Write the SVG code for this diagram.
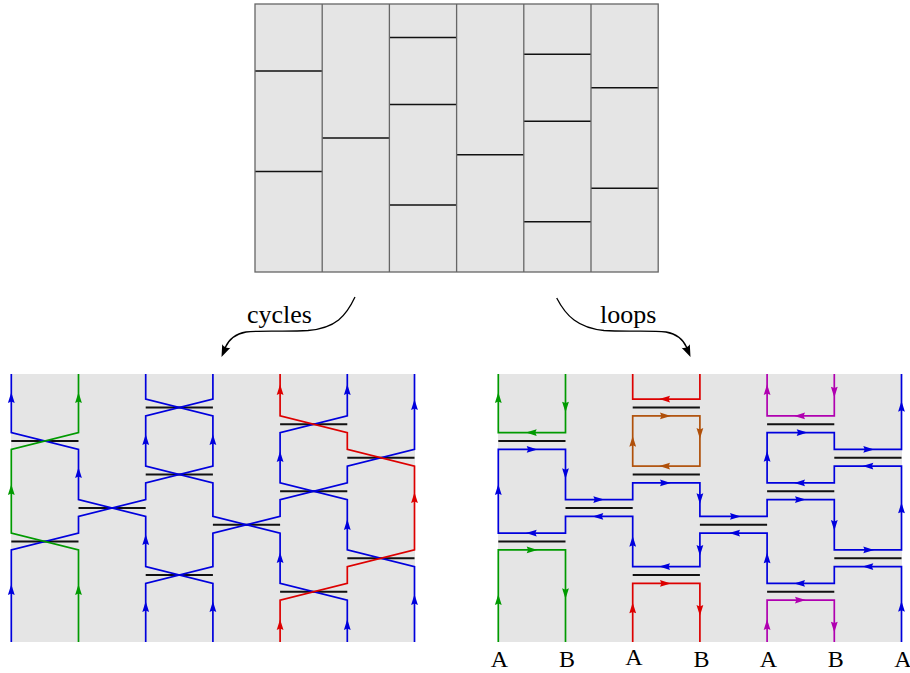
<svg xmlns="http://www.w3.org/2000/svg" xmlns:xlink="http://www.w3.org/1999/xlink" width="910" height="673" viewBox="0 0 910 673">
<style>
.bg{fill:#e5e5e5}
.gv{stroke:#666;stroke-width:1.3;fill:none}
.gh{stroke:#111;stroke-width:1.6;fill:none}
.bar{stroke:#111;stroke-width:1.8;fill:none}
.s{fill:none;stroke-width:1.7;stroke-linejoin:miter}
.sb{stroke:#0000dd}.sg{stroke:#009a00}.sr{stroke:#dd0000}.so{stroke:#b0500a}.sm{stroke:#b000b0}
.fb{fill:#0000dd}.fg{fill:#009a00}.fr{fill:#dd0000}.fo{fill:#b0500a}.fm{fill:#b000b0}
.lbl{font-family:"Liberation Serif","Times New Roman",serif;font-size:24px;fill:#000;text-anchor:middle}
.cap{font-family:"Liberation Serif","Times New Roman",serif;font-size:26px;fill:#000}
.curve{fill:none;stroke:#000;stroke-width:1.3}
</style>
<defs>
<path id="au" d="M0,-5.8 L3.4,5 L0,3.6 L-3.4,5Z"/>
<path id="ad" d="M0,5.8 L3.4,-5 L0,-3.6 L-3.4,-5Z"/>
<path id="al" d="M-5.8,0 L5,-3.4 L3.6,0 L5,3.4Z"/>
<path id="ar" d="M5.8,0 L-5,-3.4 L-3.6,0 L-5,3.4Z"/>
</defs>

<g id="grid">
<rect class="bg" x="255" y="4" width="403.2" height="268"/>
<path class="gh" d="M255,71H322.2M255,171.5H322.2M322.2,138H389.4M389.4,37.5H456.6M389.4,104.5H456.6M389.4,205H456.6M456.6,154.75H523.8M523.8,54.25H591M523.8,121.25H591M523.8,221.75H591M591,87.75H658.2M591,188.25H658.2"/>
<path class="gv" d="M322.2,4V272M389.4,4V272M456.6,4V272M523.8,4V272M591,4V272"/>
<rect class="gv" x="255" y="4" width="403.2" height="268"/>
</g>

<g id="connectors">
<g id="arrow-cycles">
<path class="curve" d="M355,297 C346,316 336,328 308,330.5 C285,332 262,330 246,332 C234,334 228,341 225,348"/>
<path d="M221.5,357 L222.2,344.2 Q225.1,348.8 230.4,347.8 Z" fill="#000"/>
</g>
<g id="arrow-loops">
<path class="curve" d="M556.7,298 C566,316 578,328 604,330.5 C627,332 650,330 666,332 C678,334 684,341 687,348"/>
<path d="M690.5,357 L689.8,344.2 Q686.9,348.8 681.6,347.8 Z" fill="#000"/>
</g>
<text class="cap" x="247" y="323">cycles</text>
<text class="cap" x="600" y="323">loops</text>
</g>

<g id="cycles-panel">
<rect class="bg" x="11" y="374" width="404" height="268"/>
<path class="bar" d="M11.3,441H78.5M11.3,541.5H78.5M78.5,508H145.7M145.7,407.5H212.9M145.7,474.5H212.9M145.7,575H212.9M212.9,524.75H280.1M280.1,424.25H347.3M280.1,491.25H347.3M280.1,591.75H347.3M347.3,457.75H414.5M347.3,558.25H414.5"/>
<polyline class="s sb" points="11.3,374 11.3,432.6 78.5,449.4 78.5,499.6 145.7,516.4 145.7,566.6 212.9,583.4 212.9,642"/>
<polyline class="s sb" points="145.7,374 145.7,399.1 212.9,415.9 212.9,466.1 145.7,482.9 145.7,499.6 78.5,516.4 78.5,533.1 11.3,549.9 11.3,642"/>
<polyline class="s sb" points="212.9,374 212.9,399.1 145.7,415.9 145.7,466.1 212.9,482.9 212.9,516.4 280.1,533.1 280.1,583.4 347.3,600.1 347.3,642"/>
<polyline class="s sb" points="347.3,374 347.3,415.9 280.1,432.6 280.1,482.9 347.3,499.6 347.3,549.9 414.5,566.6 414.5,642"/>
<polyline class="s sb" points="414.5,374 414.5,449.4 347.3,466.1 347.3,482.9 280.1,499.6 280.1,516.4 212.9,533.1 212.9,566.6 145.7,583.4 145.7,642"/>
<polyline class="s sg" points="78.5,374 78.5,432.6 11.3,449.4 11.3,533.1 78.5,549.9 78.5,642"/>
<polyline class="s sr" points="280.1,374 280.1,415.9 347.3,432.6 347.3,449.4 414.5,466.1 414.5,549.9 347.3,566.6 347.3,583.4 280.1,600.1 280.1,642"/>
<g class="fb">
<use xlink:href="#au" x="11.3" y="398"/><use xlink:href="#au" x="11.3" y="590"/>
<use xlink:href="#au" x="78.5" y="473"/>
<use xlink:href="#au" x="145.7" y="440"/><use xlink:href="#au" x="145.7" y="540"/><use xlink:href="#au" x="145.7" y="607"/>
<use xlink:href="#au" x="212.9" y="440"/><use xlink:href="#au" x="212.9" y="607"/>
<use xlink:href="#au" x="280.1" y="457"/><use xlink:href="#au" x="280.1" y="558"/>
<use xlink:href="#au" x="347.3" y="390"/><use xlink:href="#au" x="347.3" y="525"/><use xlink:href="#au" x="347.3" y="625"/>
<use xlink:href="#au" x="414.5" y="405"/><use xlink:href="#au" x="414.5" y="600"/>
</g>
<g class="fg">
<use xlink:href="#au" x="78.5" y="398"/><use xlink:href="#au" x="11.3" y="490"/><use xlink:href="#au" x="78.5" y="590"/>
</g>
<g class="fr">
<use xlink:href="#au" x="280.1" y="390"/><use xlink:href="#au" x="414.5" y="498"/><use xlink:href="#au" x="280.1" y="625"/>
</g>
</g>

<g id="loops-panel">
<rect class="bg" x="498" y="374" width="404" height="268"/>
<path class="bar" d="M498.3,441H565.5M498.3,541.5H565.5M565.5,508H632.7M632.7,407.5H699.9M632.7,474.5H699.9M632.7,575H699.9M699.9,524.75H767.1M767.1,424.25H834.3M767.1,491.25H834.3M767.1,591.75H834.3M834.3,457.75H901.5M834.3,558.25H901.5"/>
<polyline class="s sb" points="901.5,642 901.5,566.6 834.3,566.6 834.3,583.4 767.1,583.4 767.1,533.1 699.9,533.1 699.9,566.6 632.7,566.6 632.7,516.4 565.5,516.4 565.5,533.1 498.3,533.1 498.3,449.4 565.5,449.4 565.5,499.6 632.7,499.6 632.7,482.9 699.9,482.9 699.9,516.4 767.1,516.4 767.1,499.6 834.3,499.6 834.3,549.9 901.5,549.9 901.5,466.1 834.3,466.1 834.3,482.9 767.1,482.9 767.1,432.6 834.3,432.6 834.3,449.4 901.5,449.4 901.5,374"/>
<polyline class="s sg" points="498.3,374 498.3,432.6 565.5,432.6 565.5,374"/>
<polyline class="s sg" points="498.3,642 498.3,549.9 565.5,549.9 565.5,642"/>
<polyline class="s sr" points="632.7,374 632.7,399.1 699.9,399.1 699.9,374"/>
<polyline class="s sr" points="632.7,642 632.7,583.4 699.9,583.4 699.9,642"/>
<rect class="s so" x="632.7" y="415.9" width="67.2" height="50.2"/>
<polyline class="s sm" points="767.1,374 767.1,415.9 834.3,415.9 834.3,374"/>
<polyline class="s sm" points="767.1,642 767.1,600.1 834.3,600.1 834.3,642"/>
<g class="fb">
<use xlink:href="#au" x="498.3" y="490"/><use xlink:href="#ar" x="531.7" y="449.4"/><use xlink:href="#ad" x="565.5" y="473.3"/>
<use xlink:href="#ar" x="598.3" y="499.6"/><use xlink:href="#ar" x="665" y="482.9"/><use xlink:href="#ad" x="699.9" y="498.3"/>
<use xlink:href="#ar" x="735" y="516.4"/><use xlink:href="#ar" x="800" y="499.6"/><use xlink:href="#ad" x="834.3" y="525"/>
<use xlink:href="#ar" x="868.3" y="549.9"/><use xlink:href="#au" x="901.5" y="508.3"/><use xlink:href="#al" x="868.3" y="466.1"/>
<use xlink:href="#al" x="800" y="482.9"/><use xlink:href="#au" x="767.1" y="456.7"/><use xlink:href="#ar" x="801.7" y="432.6"/>
<use xlink:href="#ar" x="868.3" y="449.4"/><use xlink:href="#au" x="901.5" y="406.7"/><use xlink:href="#al" x="735" y="533.1"/>
<use xlink:href="#au" x="767.1" y="558.3"/><use xlink:href="#al" x="800" y="583.4"/><use xlink:href="#al" x="868.3" y="566.6"/>
<use xlink:href="#au" x="901.5" y="606.7"/><use xlink:href="#al" x="531.7" y="533.1"/><use xlink:href="#al" x="598.3" y="516.4"/>
<use xlink:href="#au" x="632.7" y="541.7"/><use xlink:href="#al" x="665" y="566.6"/><use xlink:href="#ad" x="699.9" y="550"/>
</g>
<g class="fg">
<use xlink:href="#au" x="498.3" y="398"/><use xlink:href="#al" x="531.7" y="432.6"/><use xlink:href="#ad" x="565.5" y="406.7"/>
<use xlink:href="#au" x="498.3" y="600"/><use xlink:href="#ar" x="531.7" y="549.9"/><use xlink:href="#ad" x="565.5" y="593.3"/>
</g>
<g class="fr">
<use xlink:href="#al" x="665" y="399.1"/>
<use xlink:href="#au" x="632.7" y="608.3"/><use xlink:href="#ar" x="665" y="583.4"/><use xlink:href="#ad" x="699.9" y="610"/>
</g>
<g class="fo">
<use xlink:href="#ar" x="665" y="415.9"/><use xlink:href="#ad" x="699.9" y="433"/><use xlink:href="#al" x="665" y="466.1"/><use xlink:href="#au" x="632.7" y="441.7"/>
</g>
<g class="fm">
<use xlink:href="#au" x="767.1" y="390"/><use xlink:href="#al" x="800" y="415.9"/><use xlink:href="#ad" x="834.3" y="391.7"/>
<use xlink:href="#au" x="767.1" y="625"/><use xlink:href="#ar" x="800" y="600.1"/><use xlink:href="#ad" x="834.3" y="626.7"/>
</g>
<text class="lbl" x="499.5" y="666.5">A</text>
<text class="lbl" x="567" y="666.5">B</text>
<text class="lbl" x="634" y="665">A</text>
<text class="lbl" x="701.5" y="666.5">B</text>
<text class="lbl" x="768.5" y="666.5">A</text>
<text class="lbl" x="835.8" y="666.5">B</text>
<text class="lbl" x="903" y="666.5">A</text>
</g>
</svg>
